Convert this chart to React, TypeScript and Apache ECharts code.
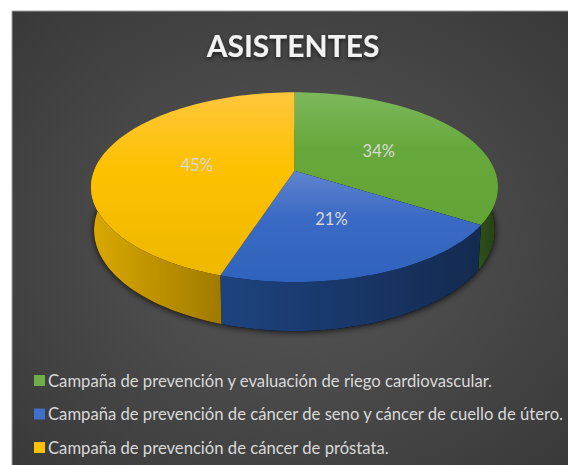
import React, { useEffect, useRef } from "react";
import * as echarts from "echarts";

const titleText = "ASISTENTES";
const categories = [
  "Campaña de prevención y evaluación de riego cardiovascular.",
  "Campaña de prevención de cáncer de seno y cáncer de cuello de útero.",
  "Campaña de prevención de cáncer de próstata.",
];
const shares = [34, 21, 45];
const legendColors = ["#70AD47", "#3F6FC8", "#FFC000"];
const topColors = [
  ["#7CB85B", "#67A83C", "#62A435"],
  ["#6084CE", "#3B6AC4", "#2F63BD"],
  ["#FFC63C", "#FDC100", "#EEB800"],
];
const wallColors = [
  ["#2F5019", "#253F14"],
  ["#1D437F", "#142A50"],
  ["#DAA900", "#A07A00"],
];

// perspective projection of the pie disc
const CX = 294.5, CY = 170.7, RX = 200.4, RY = 92, K = 0.1735, DEPTH = 42.5, SHRINK = 0.985;
const project = (thetaDeg: number, r: number, low: boolean) => {
  const t = (thetaDeg * Math.PI) / 180;
  const u = r * Math.sin(t), v = -r * Math.cos(t);
  const w = 1 - K * v;
  const s = low ? SHRINK : 1;
  return [CX + (RX * u * s) / w, CY + ((RY * v + (low ? DEPTH : 0)) * s) / w];
};
const arc = (a: number, b: number, low: boolean) => {
  const n = Math.max(2, Math.ceil(Math.abs(b - a) / 2));
  const pts: number[][] = [];
  for (let i = 0; i <= n; i++) pts.push(project(a + ((b - a) * i) / n, 1, low));
  return pts;
};
const total = shares.reduce((a, b) => a + b, 0);

const sliceSeries = (idx: number) => ({
  type: "custom",
  name: categories[idx],
  coordinateSystem: "none",
  silent: true,
  itemStyle: { color: legendColors[idx] },
  data: [[shares[idx]]],
  renderItem: (_p: any, api: any) => {
    const before = shares.slice(0, idx).reduce((a, b) => a + b, 0);
    const a0 = (before / total) * 360;
    const a1 = a0 + (api.value(0) / total) * 360;
    const wallGrad = new echarts.graphic.LinearGradient(0, 0, 1, 0, [
      { offset: 0, color: wallColors[idx][0] },
      { offset: 1, color: wallColors[idx][1] },
    ]);
    const topGrad = new echarts.graphic.LinearGradient(0, 0, 0, 1, [
      { offset: 0, color: topColors[idx][0] },
      { offset: 0.42, color: topColors[idx][1] },
      { offset: 1, color: topColors[idx][2] },
    ]);
    const w0 = Math.max(a0, 78), w1 = Math.min(a1, 282);
    const children: any[] = [
      {
        type: "polygon",
        z2: 1,
        shape: { points: [project(0, 0, true), ...arc(a0, a1, true)] },
        style: { fill: "#000", shadowBlur: 7, shadowColor: "rgba(0,0,0,0.8)", shadowOffsetY: 1 },
      },
      {
        type: "polygon",
        z2: 2,
        shape: { points: [...arc(w0, w1, false), ...arc(w1, w0, true)] },
        style: { fill: wallGrad },
      },
      {
        type: "polygon",
        z2: 3,
        shape: { points: [project(0, 0, false), ...arc(a0, a1, false)] },
        style: { fill: topGrad },
      },
    ];
    const p = project((a0 + a1) / 2, 0.5, false);
    children.push({
      type: "text",
      z2: 4,
      x: p[0],
      y: p[1] + 1.5,
      style: {
        text: `${Math.round(api.value(0))}%`,
        fill: "#D9D9D9",
        font: "16.5px Lato",
        align: "center",
        verticalAlign: "middle",
      },
    });
    return { type: "group", children };
  },
});

export default function App() {
  const ref = useRef<HTMLDivElement>(null);
  useEffect(() => {
    const chart = echarts.init(ref.current!, undefined, { renderer: "svg" });
    chart.setOption({
      animation: false,
      backgroundColor: "#FFFFFF",
      title: {
        text: titleText,
        left: 288,
        top: 25,
        textAlign: "center",
        textStyle: {
          color: "#F2F2F2",
          fontFamily: "Lato",
          fontWeight: "bold",
          fontSize: 30,
          textShadowColor: "rgba(0,0,0,0.6)",
          textShadowBlur: 4,
          textShadowOffsetY: 2,
        },
      },
      legend: {
        orient: "vertical",
        left: 29,
        top: 367,
        itemWidth: 11,
        itemHeight: 11,
        itemGap: 16.5,
        icon: "rect",
        textStyle: { color: "#D9D9D9", fontFamily: "Lato", fontSize: 16.65, padding: [0, 0, 0, -2] },
        selectedMode: false,
        data: categories,
      },
      graphic: [
        {
          type: "rect",
          z: -1,
          silent: true,
          shape: { x: 12, y: 11, width: 560, height: 460 },
          style: {
            fill: new echarts.graphic.RadialGradient(0.5, 0.5, 0.72, [
              { offset: 0, color: "#585858" },
              { offset: 1, color: "#383838" },
            ]),
            stroke: "#A0A0A0",
            lineWidth: 1,
          },
        },
      ],
      series: shares.map((_, i) => sliceSeries(i)),
    });
    return () => chart.dispose();
  }, []);
  return <div ref={ref} style={{ position: "absolute", left: 0, top: 0, width: 568, height: 465 }} />;
}
